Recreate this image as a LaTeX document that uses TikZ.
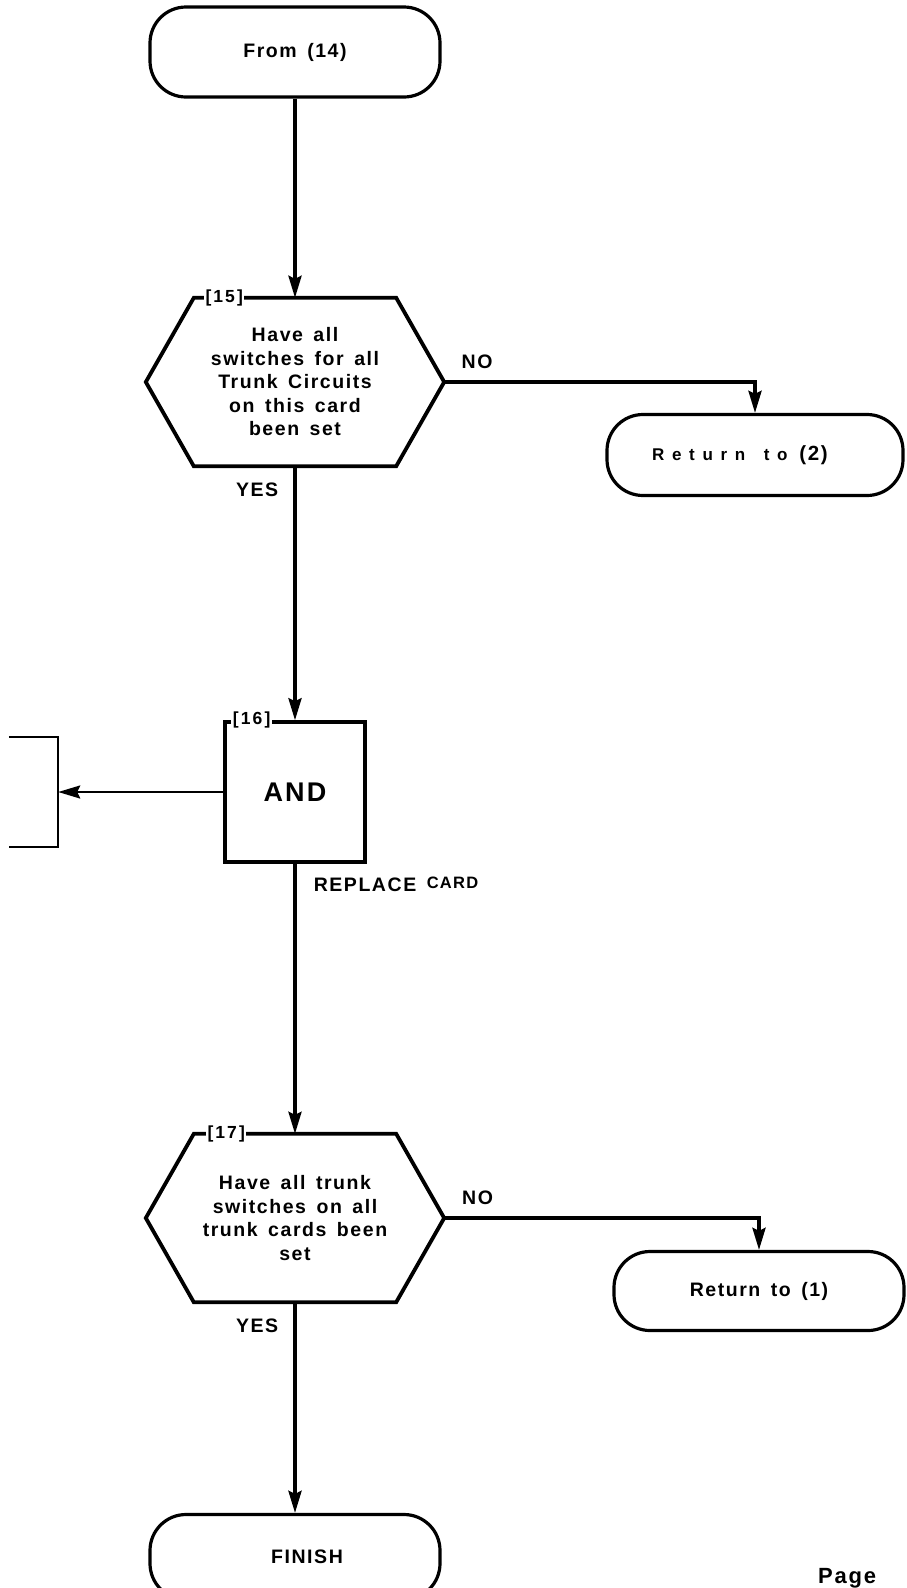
\documentclass[tikz,border=0pt]{standalone}
\usepackage{fontspec}
\setmainfont{Liberation Sans}[LetterSpace=8,WordSpace=1.5]
\usetikzlibrary{arrows.meta,positioning}

\tikzstyle{arrow} = [line width=3.5pt,-{Stealth[length=22pt,width=13pt,inset=3pt]}]
\tikzstyle{terminal} = [rectangle, rounded corners=36pt, draw, line width=3.2pt, font=\bfseries\fontsize{19.5}{23}\selectfont]
\tikzstyle{decision} = [rectangle, minimum width=202pt, minimum height=168pt, inner sep=0pt, align=center, font=\bfseries\fontsize{19.5}{23.5}\selectfont]
\tikzstyle{process} = [rectangle, draw, line width=3.5pt, minimum size=140pt, font=\bfseries\fontsize{27}{30}\selectfont]
\tikzstyle{tag} = [fill=white, inner sep=1.5pt, font=\bfseries\fontsize{17.5}{17.5}\selectfont\addfontfeature{LetterSpace=12}]
\tikzstyle{answer} = [inner sep=0pt, font=\bfseries\fontsize{19.5}{19.5}\selectfont]

% six-sided outline round a decision node, tip = right corner
\newcommand{\hexframe}[1]{%
  \draw[line width=3.8pt] (#1.north west) -- (#1.north east)
    -- ([xshift=48pt]#1.east) coordinate (#1 tip) -- (#1.south east)
    -- (#1.south west) -- ([xshift=-48pt]#1.west) -- cycle;}

\begin{document}
\begin{tikzpicture}[x=1pt,y=1pt]
    \useasboundingbox (0,0) rectangle (906,-1588);

    \node (from) [terminal, minimum width=290pt, minimum height=90pt] at (295,-52) {From (14)};
    \node (q15) [decision, node distance=330pt, below of=from] {Have all\\switches for all\\Trunk Circuits\\on this card\\been set};
    \node (ret2) [terminal, minimum width=296pt, minimum height=81pt, node distance=460pt, right of=q15, yshift=-73pt]
        {{\fontsize{17}{18}\selectfont\addfontfeature{LetterSpace=45}Return to}\hspace{12pt}{\fontsize{20.5}{22}\selectfont(2)}\hspace*{30pt}};
    \node (and16) [process, node distance=410pt, below of=q15] {AND};
    \node (side) [minimum width=49pt, minimum height=110pt, node distance=261.5pt, left of=and16] {};
    \node (q17) [decision, node distance=426pt, below of=and16] {Have all trunk\\switches on all\\trunk cards been\\set};
    \node (ret1) [terminal, minimum width=290pt, minimum height=79pt, node distance=464pt, right of=q17, yshift=-73pt] {Return to (1)};
    \node (finish) [terminal, minimum width=290pt, minimum height=85pt, node distance=339pt, below of=q17] {\hspace*{24pt}FINISH};

    \hexframe{q15}
    \hexframe{q17}
    \draw[line width=2.2pt] (side.north west) -- (side.north east) -- (side.south east) -- (side.south west);

    \node (t15) [tag, anchor=west] at ([xshift=10pt]q15.north west) {[15]};
    \node (t16) [tag, anchor=west] at ([xshift=8pt]and16.north west) {[16]};
    \node (t17) [tag, anchor=west] at ([xshift=12pt]q17.north west) {[17]};

    \draw[arrow] (from.south) -- (q15.north);
    \draw[arrow] (q15 tip) -| node[answer, pos=0.053, above=12pt] {NO} (ret2.north);
    \draw[arrow] (q15.south) -- node[answer, pos=0.094, left=15pt] {YES} (and16.north);
    \draw[arrow, line width=2.4pt] (and16.west) -- (side.east);
    \draw[arrow] (and16.south) -- node[answer, pos=0.075, right=17pt]
        {REPLACE \raisebox{3pt}{\fontsize{16.5}{16.5}\selectfont CARD}} (q17.north);
    \draw[arrow] (q17 tip) -| node[answer, pos=0.053, above=12pt] {NO} (ret1.north);
    \draw[arrow] (q17.south) -- node[answer, pos=0.113, left=15pt] {YES} (finish.north);

    \node (page) [anchor=base west, inner sep=0pt, font=\bfseries\fontsize{22}{22}\selectfont] at (818,-1583) {Page};
\end{tikzpicture}
\end{document}
